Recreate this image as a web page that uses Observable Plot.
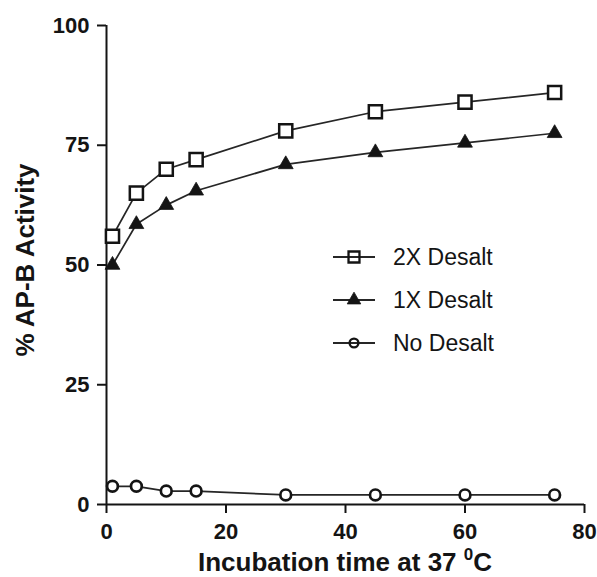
<!DOCTYPE html>
<html>
<head>
<meta charset="utf-8">
<script src="https://cdn.jsdelivr.net/npm/d3@7"></script>
<script src="https://cdn.jsdelivr.net/npm/@observablehq/plot@0.6"></script>
<style>
  html, body { margin: 0; padding: 0; background: #fff; }
  #chart svg { display: block; }
</style>
</head>
<body>
<div id="chart"></div>
<script>
// Incubation time (minutes) at 37 °C
const times = [1, 5, 10, 15, 30, 45, 60, 75];
// % AP-B Activity per series
const desalt2x = [56, 65, 70, 72, 78, 82, 84, 86];
const desalt1x = [50, 58.5, 62.5, 65.5, 71, 73.5, 75.5, 77.5];
const noDesalt = [3.8, 3.8, 2.8, 2.8, 2, 2, 2, 2];

const seriesNames = ["2X Desalt", "1X Desalt", "No Desalt"];
const xTicks = [0, 20, 40, 60, 80];
const yTicks = [0, 25, 50, 75, 100];
const xTitle = "Incubation time at 37 ";
const xTitleSup = "0";
const xTitleEnd = "C";
const yTitle = "% AP-B Activity";

const toRows = (vals, name) => times.map((t, i) => ({time: t, value: vals[i], series: name}));
const rows2x = toRows(desalt2x, seriesNames[0]);
const rows1x = toRows(desalt1x, seriesNames[1]);
const rowsNo = toRows(noDesalt, seriesNames[2]);

const FONT = "'Liberation Sans', Arial, Helvetica, sans-serif";
const INK = "#141414";
const LINE = "#262626";

const plot = Plot.plot({
  width: 597,
  height: 577,
  marginLeft: 106,
  marginRight: 13,
  marginTop: 25,
  marginBottom: 73,
  style: {fontFamily: FONT, background: "#fff", color: INK},
  x: {domain: [0, 80]},
  y: {domain: [0, 100]},
  marks: [
    Plot.axisX({ticks: xTicks, tickSize: 9, tickPadding: 10, fontSize: 22, fontWeight: "bold", strokeWidth: 2, label: null, tickFormat: d => String(d)}),
    Plot.axisY({ticks: yTicks, tickSize: 9, tickPadding: 8, fontSize: 22, fontWeight: "bold", strokeWidth: 2, label: null, tickFormat: d => String(d)}),
    Plot.ruleX([0], {stroke: INK, strokeWidth: 2}),
    Plot.ruleY([0], {stroke: INK, strokeWidth: 2}),
    Plot.line(rows2x, {x: "time", y: "value", stroke: LINE, strokeWidth: 1.7}),
    Plot.line(rows1x, {x: "time", y: "value", stroke: LINE, strokeWidth: 1.7}),
    Plot.line(rowsNo, {x: "time", y: "value", stroke: LINE, strokeWidth: 1.7}),
    Plot.dot(rows2x, {x: "time", y: "value", symbol: "square", r: 7.4, fill: "#fff", stroke: INK, strokeWidth: 2.5}),
    Plot.dot(rows1x, {x: "time", y: "value", symbol: "triangle", r: 5.5, fill: INK, stroke: INK, strokeWidth: 0.8}),
    Plot.dot(rowsNo, {x: "time", y: "value", symbol: "circle", r: 5.4, fill: "#fff", stroke: INK, strokeWidth: 2.7})
  ]
});

document.getElementById("chart").appendChild(plot);

const svg = d3.select(plot);

// Axis titles
const xt = svg.append("text")
  .attr("x", 345).attr("y", 571)
  .attr("text-anchor", "middle")
  .attr("font-family", FONT).attr("font-size", 26).attr("font-weight", "bold").attr("fill", INK);
xt.append("tspan").text(xTitle);
xt.append("tspan").attr("dy", -11).attr("font-size", 17).text(xTitleSup);
xt.append("tspan").attr("dy", 11).text(xTitleEnd);

svg.append("text")
  .attr("transform", "translate(34,260) rotate(-90)")
  .attr("text-anchor", "middle")
  .attr("font-family", FONT).attr("font-size", 26).attr("font-weight", "bold").attr("fill", INK)
  .text(yTitle);

// Legend
const legendRows = [
  {name: seriesNames[0], sym: d3.symbolSquare, size: 120, fill: "none", sw: 2.3, y: 257},
  {name: seriesNames[1], sym: d3.symbolTriangle, size: 80, fill: INK, sw: 0.8, y: 300},
  {name: seriesNames[2], sym: d3.symbolCircle, size: 60, fill: "none", sw: 2.4, y: 343}
];
const lg = svg.append("g");
legendRows.forEach(r => {
  const g = lg.append("g").attr("transform", `translate(0,${r.y})`);
  g.append("line").attr("x1", 333).attr("x2", 375).attr("y1", 0).attr("y2", 0)
    .attr("stroke", LINE).attr("stroke-width", 1.8);
  g.append("path").attr("transform", "translate(354,0)")
    .attr("d", d3.symbol(r.sym, r.size)())
    .attr("fill", r.fill).attr("stroke", INK).attr("stroke-width", r.sw);
  g.append("text").attr("x", 393).attr("y", 8)
    .attr("text-anchor", "start")
    .attr("font-family", FONT).attr("font-size", 23).attr("fill", INK)
    .text(r.name);
});
</script>
</body>
</html>
